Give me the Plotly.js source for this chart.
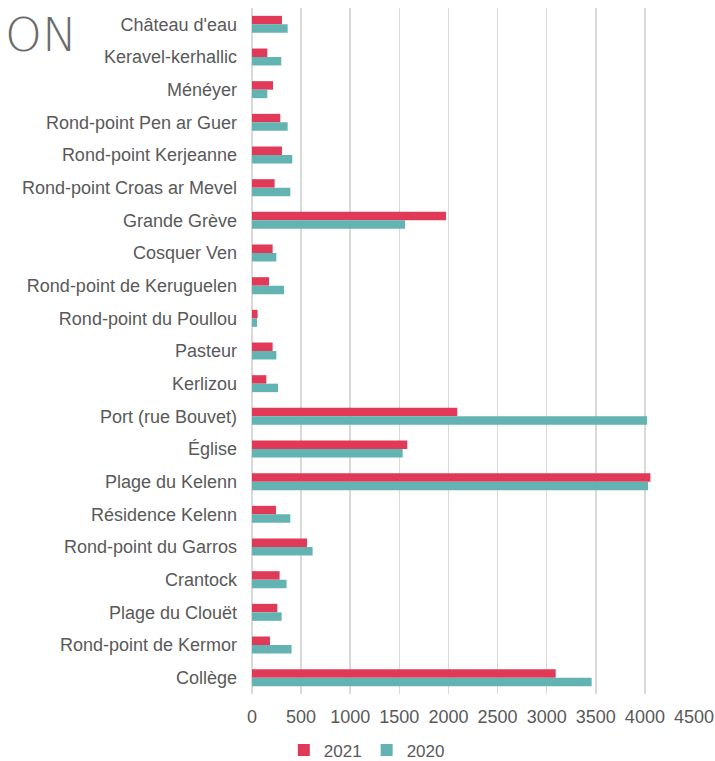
<!DOCTYPE html>
<html><head><meta charset="utf-8">
<script src="https://cdn.plot.ly/plotly-3.0.1.min.js"></script>
<style>body{margin:0;background:#fff}#chart{width:715px;height:761px}</style>
</head><body><div id="chart"></div>
<script>
const categories = ["Château d'eau","Keravel-kerhallic","Ménéyer","Rond-point Pen ar Guer","Rond-point Kerjeanne","Rond-point Croas ar Mevel","Grande Grève","Cosquer Ven","Rond-point de Keruguelen","Rond-point du Poullou","Pasteur","Kerlizou","Port (rue Bouvet)","Église","Plage du Kelenn","Résidence Kelenn","Rond-point du Garros","Crantock","Plage du Clouët","Rond-point de Kermor","Collège"];
const values2021 = [305,156,214,288,305,230,1975,210,173,57,210,146,2090,1581,4056,244,560,281,258,183,3092];
const values2020 = [363,298,156,363,410,390,1558,248,326,51,248,265,4022,1534,4032,390,617,352,302,403,3458];
const xTicks = [0,500,1000,1500,2000,2500,3000,3500,4000,4500];

const font = {family: "Liberation Sans, Arial, sans-serif", size: 18, color: "#595959"};
const data = [
  {type:"bar", orientation:"h", name:"2021", y:categories, x:values2021, marker:{color:"#E03A58"}},
  {type:"bar", orientation:"h", name:"2020", y:categories, x:values2020, marker:{color:"#62B3B1"}}
];
const layout = {
  width:715, height:761,
  margin:{l:252, r:21, t:8, b:67, autoexpand:false},
  paper_bgcolor:"#fff", plot_bgcolor:"#fff",
  font: font,
  barmode:"group", bargap:0.48, bargroupgap:0,
  showlegend:true,
  legend:{orientation:"h", x:0.072, xanchor:"left", yref:"container", y:0.014, yanchor:"middle", font:{family:font.family, size:17, color:font.color}, itemwidth:30, traceorder:"normal"},
  xaxis:{range:[0,4500], tickvals:xTicks, ticktext:xTicks.map(String), showgrid:true, gridcolor:"#d9d9d9", gridwidth:1.5, zeroline:true, zerolinecolor:"#d9d9d9", zerolinewidth:1.5, showline:false, ticks:"", ticklabelstandoff:10, automargin:false, fixedrange:true},
  yaxis:{autorange:"reversed", type:"category", showgrid:false, ticks:"", ticklabelstandoff:14, showline:false, automargin:false, fixedrange:true},
  annotations:[{text:"ON", xref:"paper", yref:"paper", x:-0.391, y:0.962, xanchor:"right", yanchor:"middle", showarrow:false, font:{family:"DejaVu Sans, sans-serif", size:47, color:"#6b6b6b", weight:300}}]
};
Plotly.newPlot("chart", data, layout, {displayModeBar:false, staticPlot:true});
</script></body></html>
